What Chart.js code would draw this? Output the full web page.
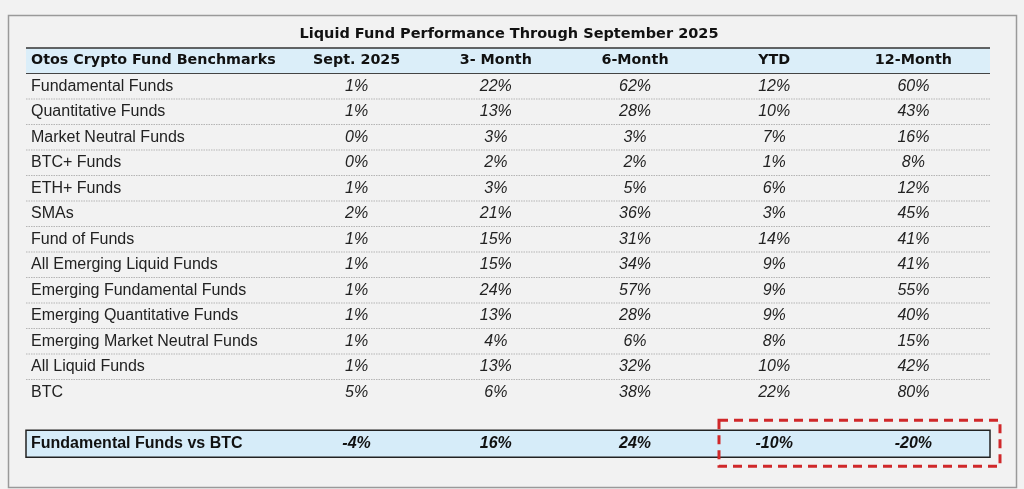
<!DOCTYPE html>
<html><head><meta charset="utf-8">
<script src="https://cdn.jsdelivr.net/npm/chart.js@4"></script>
<style>html,body{margin:0;padding:0;background:#f2f2f2;}#c{display:block;}</style>
</head><body><canvas id="c" width="1024" height="489"></canvas>
<script>
const title = 'Liquid Fund Performance Through September 2025';
const cornerLabel = 'Otos Crypto Fund Benchmarks';
const columns = ['Sept. 2025','3- Month','6-Month','YTD','12-Month'];
const rowNames = ['Fundamental Funds','Quantitative Funds','Market Neutral Funds','BTC+ Funds','ETH+ Funds','SMAs','Fund of Funds','All Emerging Liquid Funds','Emerging Fundamental Funds','Emerging Quantitative Funds','Emerging Market Neutral Funds','All Liquid Funds','BTC'];
const sept   = [1,1,0,0,1,2,1,1,1,1,1,1,5];
const m3     = [22,13,3,2,3,21,15,15,24,13,4,13,6];
const m6     = [62,28,3,2,5,36,31,34,57,28,6,32,38];
const ytd    = [12,10,7,1,6,3,14,9,9,9,8,10,22];
const m12    = [60,43,16,8,12,45,41,41,55,40,15,42,80];
const summaryName = 'Fundamental Funds vs BTC';
const summary = [-4,16,24,-10,-20];

const series = [sept,m3,m6,ytd,m12];
const yLabels = ['header', ...rowNames, 'gap', 'summary'];

const tablePlugin = {
  id:'table',
  beforeDraw(chart){
    const ctx = chart.ctx, x = chart.scales.x, y = chart.scales.y;
    const step = y.getPixelForValue(1) - y.getPixelForValue(0);
    const L = 26, R = 990;
    ctx.save();
    ctx.fillStyle = '#f2f2f2'; ctx.fillRect(0,0,chart.width,chart.height);
    ctx.strokeStyle = '#9a9a9a'; ctx.lineWidth = 1.5;
    ctx.strokeRect(8.5, 15.5, 1008, 472);
    ctx.fillStyle = '#111'; ctx.textBaseline = 'middle';
    ctx.font = 'bold 14.5px "DejaVu Sans", sans-serif';
    ctx.textAlign = 'center';
    ctx.fillText(title, 509, 34);
    const hy = y.getPixelForValue(0);
    ctx.fillStyle = '#dbeef9';
    ctx.fillRect(L, hy - step/2, R - L, step);
    ctx.strokeStyle = '#333'; ctx.lineWidth = 1.5;
    ctx.beginPath(); ctx.moveTo(L, hy - step/2); ctx.lineTo(R, hy - step/2); ctx.stroke();
    ctx.strokeStyle = '#444'; ctx.lineWidth = 1;
    ctx.beginPath(); ctx.moveTo(L, hy + step/2); ctx.lineTo(R, hy + step/2); ctx.stroke();
    ctx.fillStyle = '#111';
    ctx.font = 'bold 14.3px "DejaVu Sans", sans-serif';
    ctx.textAlign = 'left'; ctx.fillText(cornerLabel, 31, hy);
    ctx.textAlign = 'center';
    columns.forEach((c,i)=>ctx.fillText(c, x.getPixelForValue(i), hy));
    rowNames.forEach((n,r)=>{
      const py = y.getPixelForValue(r+1);
      if (r < rowNames.length-1){
        ctx.strokeStyle = '#b5b5b5'; ctx.lineWidth = 1; ctx.setLineDash([1.5,1]);
        ctx.beginPath(); ctx.moveTo(L, py + step/2); ctx.lineTo(R, py + step/2); ctx.stroke();
        ctx.setLineDash([]);
      }
      ctx.fillStyle = '#222';
      ctx.font = '16px "Liberation Sans", Arial, sans-serif';
      ctx.textAlign = 'left'; ctx.fillText(n, 31, py);
      ctx.font = 'italic 16px "Liberation Sans", Arial, sans-serif';
      ctx.textAlign = 'center';
      series.forEach((s,i)=>ctx.fillText(s[r]+'%', x.getPixelForValue(i), py));
    });
    const sy = y.getPixelForValue(yLabels.length-1);
    ctx.fillStyle = '#d6ecf9';
    ctx.fillRect(L, sy - 13, R - L, 27);
    ctx.strokeStyle = '#222'; ctx.lineWidth = 1.5;
    ctx.strokeRect(L, sy - 13, R - L, 27);
    ctx.fillStyle = '#111';
    ctx.font = 'bold 16px "Liberation Sans", Arial, sans-serif';
    ctx.textAlign = 'left'; ctx.fillText(summaryName, 31, sy);
    ctx.font = 'bold italic 16px "Liberation Sans", Arial, sans-serif';
    ctx.textAlign = 'center';
    summary.forEach((v,i)=>ctx.fillText(v+'%', x.getPixelForValue(i), sy));
    ctx.strokeStyle = '#d0282a'; ctx.lineWidth = 3; ctx.setLineDash([9,6]);
    ctx.strokeRect(719, sy - 23, 281, 46);
    ctx.restore();
  }
};

new Chart(document.getElementById('c'), {
  type:'scatter',
  data:{ datasets:[{ data:[], showLine:false }] },
  options:{
    responsive:false, animation:false,
    layout:{ padding:{ left:287, right:41, top:48, bottom:33 } },
    plugins:{ legend:{display:false}, tooltip:{enabled:false} },
    scales:{
      x:{ type:'category', labels:columns, display:false, offset:true },
      y:{ type:'category', labels:yLabels, display:false, offset:true }
    }
  },
  plugins:[tablePlugin]
});
</script></body></html>
